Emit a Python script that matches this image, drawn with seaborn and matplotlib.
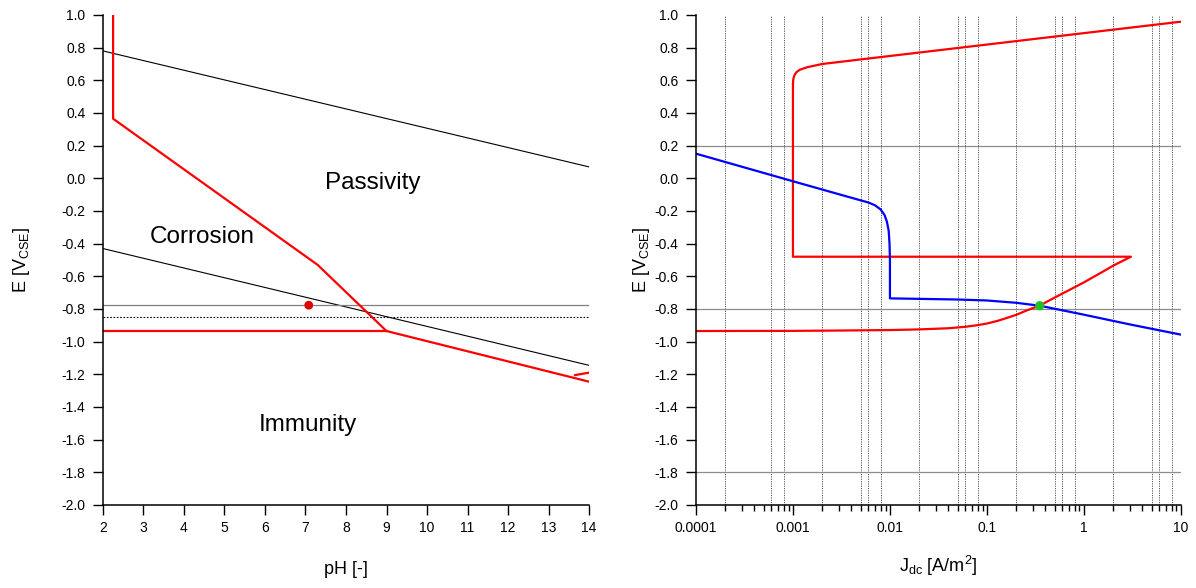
import matplotlib
matplotlib.use('Agg')
import matplotlib.pyplot as plt
import matplotlib.ticker as mticker
import seaborn as sns

# ---- left: Pourbaix diagram ----
PH_O2 = [2.0, 14.0]
E_O2 = [0.78, 0.07]
PH_H2 = [2.0, 14.0]
E_H2 = [-0.43, -1.145]
PH_BOUND = [2.25, 2.25, 7.3, 9.0, 14.0]
E_BOUND = [1.0, 0.365, -0.53, -0.935, -1.245]
PH_IMM = [2.0, 9.0]
E_IMM = [-0.935, -0.935]
PH_BRANCH = [13.65, 14.0]
E_BRANCH = [-1.205, -1.19]
E_POTENTIAL = -0.775
E_PROTECTION = -0.85
POINT_PH = [7.08]
POINT_E = [-0.777]
REGIONS = ['Passivity', 'Corrosion', 'Immunity']
REGION_PH = [8.65, 4.45, 7.05]
REGION_E = [-0.03, -0.36, -1.51]

# ---- right: polarisation curves ----
J_RED = [0.0001, 0.001, 0.003, 0.01, 0.02, 0.04, 0.06, 0.08, 0.1, 0.13, 0.16, 0.2,
         0.25, 0.3, 0.35, 0.5, 0.7, 1.0, 1.5, 2.0, 3.05,
         0.001,
         0.001, 0.00101, 0.00104, 0.00109, 0.00118, 0.0014, 0.002, 0.005, 0.01, 0.1, 1.0, 10.0]
E_RED = [-0.935, -0.934, -0.932, -0.929, -0.925, -0.918, -0.909, -0.899, -0.889, -0.872, -0.855, -0.836,
         -0.812, -0.794, -0.779, -0.73, -0.685, -0.637, -0.578, -0.535, -0.48,
         -0.48,
         0.58, 0.61, 0.633, 0.651, 0.665, 0.68, 0.70, 0.728, 0.749, 0.819, 0.889, 0.959]
J_BLUE = [0.0001, 0.001, 0.003, 0.005, 0.006, 0.007, 0.008, 0.0088, 0.0093, 0.0097, 0.0099, 0.01,
          0.01, 0.02, 0.05, 0.1, 0.2, 0.35, 1.0, 3.0, 10.0]
E_BLUE = [0.151, -0.018, -0.098, -0.135, -0.148, -0.165, -0.19, -0.225, -0.265, -0.32, -0.40, -0.5,
          -0.735, -0.738, -0.742, -0.748, -0.762, -0.78, -0.835, -0.895, -0.957]
CROSS_J = [0.35]
CROSS_E = [-0.78]
GRID_J = [0.0002, 0.0006, 0.0008,
          0.002, 0.005, 0.006, 0.008,
          0.02, 0.05, 0.06, 0.08,
          0.2, 0.5, 0.6, 0.8,
          2, 5, 6, 8]
GRID_E = [0.2, -0.8, -1.8]
J_TICKS = [0.0001, 0.001, 0.01, 0.1, 1, 10]
J_LABELS = ['0.0001', '0.001', '0.01', '0.1', '1', '10']

sns.set_theme(style='ticks')
plt.rcParams['font.family'] = ['Liberation Sans', 'DejaVu Sans']
plt.rcParams['mathtext.fontset'] = 'custom'
plt.rcParams['mathtext.rm'] = 'Liberation Sans'
plt.rcParams['mathtext.it'] = 'Liberation Sans:italic'

RED = '#ff0000'
BLUE = '#0000ff'


def _style_axis(ax):
    ax.spines['top'].set_visible(False)
    ax.spines['right'].set_visible(False)
    for s in ('left', 'bottom'):
        ax.spines[s].set_linewidth(1.1)
        ax.spines[s].set_color('black')
    ax.set_ylim(-2.0, 1.0)
    ax.yaxis.set_major_locator(mticker.MultipleLocator(0.2))
    ax.yaxis.set_major_formatter(mticker.FormatStrFormatter('%.1f'))
    ax.tick_params(axis='both', which='major', length=7.5, width=1.0, color='black',
                   labelsize=10, labelcolor='black', direction='out')
    ax.tick_params(axis='y', pad=5)
    ax.tick_params(axis='x', pad=4)
    ax.set_ylabel(r'E [V$_{\mathrm{CSE}}$]', fontsize=13, color='black')


def _plot_pourbaix(ax):
    sns.lineplot(x=PH_O2, y=E_O2, color='black', lw=0.8, sort=False, estimator=None, ax=ax)
    sns.lineplot(x=PH_H2, y=E_H2, color='black', lw=0.8, sort=False, estimator=None, ax=ax)
    ax.axhline(E_POTENTIAL, color='#808080', lw=0.9)
    ax.axhline(E_PROTECTION, color='black', lw=0.8, ls=(0, (1.5, 1.5)))
    sns.lineplot(x=PH_BOUND, y=E_BOUND, color=RED, lw=1.6, sort=False, estimator=None, ax=ax)
    sns.lineplot(x=PH_IMM, y=E_IMM, color=RED, lw=1.6, sort=False, estimator=None, ax=ax)
    sns.lineplot(x=PH_BRANCH, y=E_BRANCH, color=RED, lw=1.6, sort=False, estimator=None, ax=ax)
    sns.scatterplot(x=POINT_PH, y=POINT_E, color='#e00000', s=40, edgecolor='none', ax=ax, zorder=5)
    for name, x, y in zip(REGIONS, REGION_PH, REGION_E):
        ax.text(x, y, name, fontsize=17.5, ha='center', va='center', color='black')
    ax.set_xlim(2, 14)
    ax.xaxis.set_major_locator(mticker.MultipleLocator(1))
    ax.set_xlabel('pH [-]', fontsize=13, color='black')
    _style_axis(ax)
    ax.yaxis.set_label_coords(-0.147, 0.5)
    ax.xaxis.set_label_coords(0.5, -0.115)


def _plot_polarisation(ax):
    ax.set_xscale('log')
    for j in GRID_J:
        ax.axvline(j, color='#555555', lw=0.7, ls=(0, (1.2, 1.2)), zorder=0)
    for e in GRID_E:
        ax.axhline(e, color='#8c8c8c', lw=0.9, zorder=0)
    sns.lineplot(x=J_RED, y=E_RED, color=RED, lw=1.6, sort=False, estimator=None, ax=ax)
    sns.lineplot(x=J_BLUE, y=E_BLUE, color=BLUE, lw=1.6, sort=False, estimator=None, ax=ax)
    sns.scatterplot(x=CROSS_J, y=CROSS_E, color='#22c022', s=45, edgecolor='none', ax=ax, zorder=5)
    ax.set_xlim(0.0001, 10)
    ax.set_xticks(J_TICKS)
    ax.set_xticklabels(J_LABELS)
    ax.xaxis.set_minor_locator(mticker.LogLocator(base=10, subs=range(2, 10)))
    ax.xaxis.set_minor_formatter(mticker.NullFormatter())
    ax.tick_params(axis='x', which='minor', length=4.5, width=1.0, color='black')
    ax.set_xlabel(r'J$_{\mathrm{dc}}$ [A/m$^{2}$]', fontsize=13, color='black')
    _style_axis(ax)
    ax.yaxis.set_label_coords(-0.09, 0.5)
    ax.xaxis.set_label_coords(0.5, -0.1)


fig = plt.figure(figsize=(11.96, 5.88), dpi=100)
ax1 = fig.add_axes([0.0861, 0.1412, 0.4064, 0.8333])
ax2 = fig.add_axes([0.5819, 0.1412, 0.4055, 0.8333])
_plot_pourbaix(ax1)
_plot_polarisation(ax2)
fig.savefig('out.png', dpi=100, facecolor='white')
